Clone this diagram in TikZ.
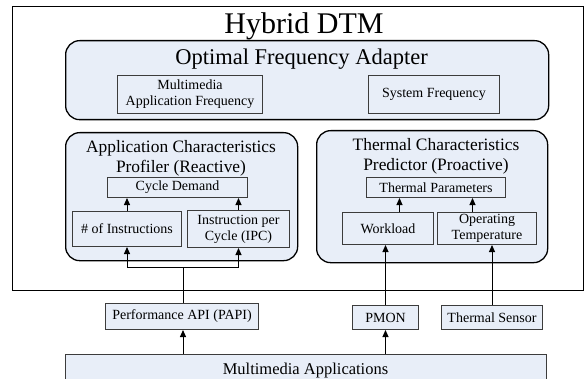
\documentclass[tikz,border=0pt]{standalone}
\usepackage{fontspec}
\setmainfont{Liberation Serif}
\usetikzlibrary{arrows.meta,calc}
\definecolor{boxfill}{RGB}{232,238,248}
\definecolor{boxline}{RGB}{60,60,60}
\tikzset{
  bigbox/.style={draw=black, line width=1.3pt, fill=boxfill, rounded corners=14pt, anchor=north west, inner sep=0pt},
  smallbox/.style={draw=boxline, line width=1pt, fill=boxfill, anchor=north west, inner sep=0pt, align=center, font=\fontsize{14}{16}\selectfont},
  titletext/.style={font=\fontsize{17.4}{20.5}\selectfont, align=center, anchor=base},
  arr/.style={line width=1pt, -{Triangle[length=7pt,width=6pt]}},
  ln/.style={line width=1pt}
}
\begin{document}
\begin{tikzpicture}[x=1pt,y=-1pt]
\useasboundingbox (0,0) rectangle (585,379);
\fill[white] (0,0) rectangle (585,379);
% outer box
\node[draw=black, line width=1.3pt, anchor=north west, minimum width=571pt, minimum height=284pt, inner sep=0pt] (outer) at (12,6) {};
\node[font=\fontsize{30}{34}\selectfont, anchor=base] (title) at (304,34) {Hybrid DTM};
% optimal frequency adapter
\node[bigbox, minimum width=483pt, minimum height=79pt] (ofa) at (65,40) {};
\node[font=\fontsize{22.5}{26}\selectfont, anchor=base] (ofat) at (301.5,64.5) {Optimal Frequency Adapter};
\node[smallbox, minimum width=145pt, minimum height=38pt] (maf) at (117,75) {Multimedia\\Application Frequency};
\node[smallbox, minimum width=131pt, minimum height=38pt] (sf) at (368,75) {System Frequency};
% application characteristics profiler
\node[bigbox, minimum width=232pt, minimum height=128pt] (acp) at (65,132) {};
\node[titletext] (acpt) at (181,172.5) {Application Characteristics\\Profiler (Reactive)};
\node[smallbox, minimum width=140pt, minimum height=20pt] (cd) at (107,177) {Cycle Demand};
\node[smallbox, minimum width=109pt, minimum height=35pt] (ins) at (72,211) {\# of Instructions};
\node[smallbox, minimum width=102pt, minimum height=37pt] (ipc) at (187,210) {Instruction per\\Cycle (IPC)};
% thermal characteristics predictor
\node[bigbox, minimum width=231pt, minimum height=132pt] (tcp) at (316,130) {};
\node[titletext] (tcpt) at (436,171) {Thermal Characteristics\\Predictor (Proactive)};
\node[smallbox, minimum width=139pt, minimum height=20pt] (tp) at (366,177) {Thermal Parameters};
\node[smallbox, minimum width=91pt, minimum height=32pt] (wl) at (342,212) {Workload};
\node[smallbox, minimum width=99pt, minimum height=32pt] (ot) at (437,212) {Operating\\Temperature};
% bottom boxes
\node[smallbox, minimum width=153pt, minimum height=26pt] (papi) at (105,303) {Performance API (PAPI)};
\node[smallbox, minimum width=66pt, minimum height=24pt] (pmon) at (352,305) {PMON};
\node[smallbox, minimum width=101pt, minimum height=24pt] (ts) at (441,305) {Thermal Sensor};
\node[smallbox, minimum width=481pt, minimum height=34pt, anchor=north west] (ma) at (65,354) {};
\node[font=\fontsize{16.5}{19}\selectfont, anchor=base] (mat) at (305.5,374.5) {Multimedia Applications};
% connectors
\draw[arr] (ins.north) -- (ins.north |- cd.south);
\draw[arr] (ipc.north) -- (ipc.north |- cd.south);
\coordinate (fk) at (183,267);
\coordinate (fkl) at (ins.south |- fk);
\coordinate (fkr) at (ipc.south |- fk);
\draw[ln] (papi.north -| fk) -- (fk);
\draw[ln] (fkl) -- (fkr);
\draw[arr] (fkl) -- (ins.south);
\draw[arr] (fkr) -- (ipc.south);
\draw[arr] (ma.north -| fk) -- (papi.south -| fk);
\coordinate (tpl) at ($(tp.south)+(-36.5,0)$);
\coordinate (tpr) at ($(tp.south)+(36.5,0)$);
\draw[arr] (wl.north -| tpl) -- (tpl);
\draw[arr] (ot.north -| tpr) -- (tpr);
\draw[arr] (pmon.north) -- (pmon.north |- wl.south);
\draw[arr] (pmon.south |- ma.north) -- (pmon.south);
\draw[arr] (ts.north) -- (ts.north |- ot.south);
\end{tikzpicture}
\end{document}
